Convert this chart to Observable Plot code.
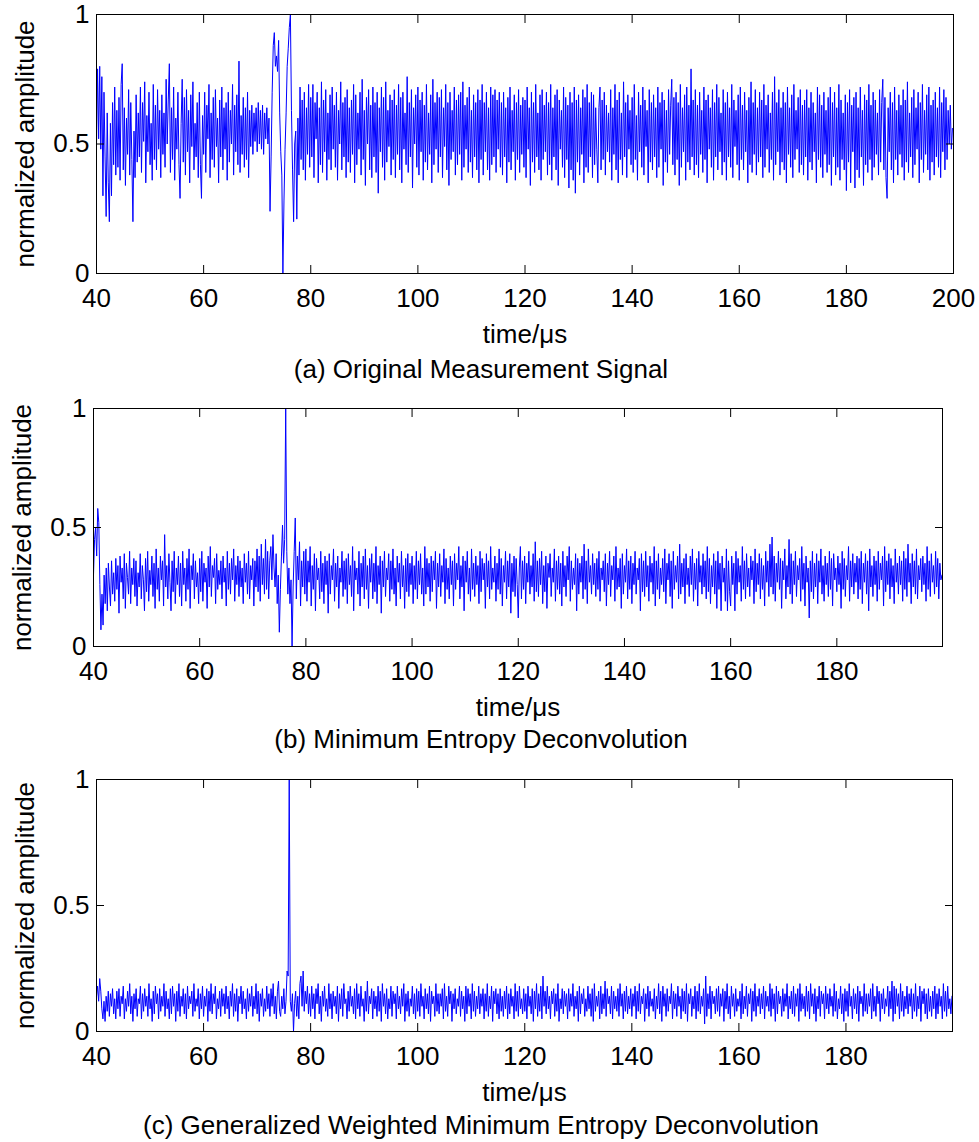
<!DOCTYPE html>
<html>
<head>
<meta charset="utf-8">
<script src="https://cdn.jsdelivr.net/npm/d3@7"></script>
<script src="https://cdn.jsdelivr.net/npm/@observablehq/plot@0.6"></script>
<style>
  body { margin: 0; background: #fff; }
  #fig { position: relative; width: 979px; height: 1142px; background: #fff; overflow: hidden;
         font-family: "Liberation Sans", Arial, Helvetica, sans-serif; }
  .panel { position: absolute; left: 0; }
  .cap { position: absolute; left: 0; width: 962px; text-align: center; font-size: 26px;
         line-height: 30px; color: #000; white-space: nowrap; }
</style>
</head>
<body>
<div id="fig"></div>
<script>
// ---- data (time starts at 40 µs, one sample every 0.2 µs; amplitudes in hundredths) ----
const startTime = 40;
const sampleStep = 0.2;

const xTicksA = [40, 60, 80, 100, 120, 140, 160, 180, 200];
const xTicksBC = [40, 60, 80, 100, 120, 140, 160, 180];
const yTicks = [0, 0.5, 1];

const yLabel = "normalized amplitude";
const xLabel = "time/\u03bcs";
const captions = [
  "(a) Original Measurement Signal",
  "(b) Minimum Entropy Deconvolution",
  "(c) Generalized Weighted Minimum Entropy Deconvolution"
];

const originalSignal = [
  50,79,52,80,48,76,30,70,45,22,62,35,20,58,30,66,42,72,38,63,
  41,68,36,73,81,40,64,34,60,46,71,38,66,44,20,55,37,69,43,62,
  45,72,39,66,51,74,35,61,47,70,42,58,36,73,44,65,40,71,48,63,
  37,69,46,62,41,75,50,67,81,39,64,44,72,36,60,48,70,42,29,58,
  75,43,68,38,71,47,63,35,69,49,74,40,58,45,66,37,70,42,29,61,
  46,70,39,65,52,73,37,62,44,68,41,71,49,60,35,67,45,72,40,64,
  48,66,36,70,43,63,50,73,38,65,47,69,42,82,39,61,46,68,41,64,
  44,70,37,63,49,65,46,62,51,64,47,66,50,63,48,65,46,62,52,64,
  50,60,24,45,70,88,93,80,84,78,90,62,47,38,0,28,48,62,80,87,
  95,100,63,40,20,50,55,21,60,38,72,44,67,40,70,36,64,46,73,41,
  68,45,73,37,66,52,70,35,64,42,74,39,67,47,71,36,62,44,69,40,
  72,48,65,41,70,36,63,50,74,40,66,45,68,37,71,43,64,39,67,46,
  73,35,69,42,62,48,70,38,75,44,63,34,68,50,71,40,65,37,72,45,
  66,39,70,31,64,47,72,41,68,36,74,43,63,49,69,38,67,44,71,37,
  65,46,73,40,68,35,70,48,62,42,76,39,66,45,71,33,64,50,69,41,
  72,38,67,47,70,36,65,43,73,40,62,46,69,35,75,42,66,48,70,39,
  68,45,71,37,64,49,73,40,66,34,70,44,63,47,72,38,67,42,69,46,
  70,36,74,41,65,48,68,39,72,43,63,37,69,45,66,40,71,35,67,44,
  73,38,66,47,70,40,64,36,72,42,69,45,71,39,67,48,70,41,66,38,
  70,45,64,35,68,43,72,40,63,47,69,36,66,44,71,39,65,46,68,41,
  67,37,72,48,64,34,70,43,66,39,73,45,62,40,69,36,71,44,65,47,
  70,38,66,42,73,36,64,45,69,40,71,34,67,48,63,41,72,37,68,44,
  65,33,70,40,66,36,72,31,67,43,69,38,64,46,71,35,68,41,73,39,
  66,45,70,37,69,42,64,48,35,64,72,40,67,44,70,38,65,47,62,43,
  71,36,64,46,73,40,67,35,70,44,62,38,74,45,66,37,69,48,63,42,
  68,39,73,44,61,36,70,47,65,41,72,38,67,49,63,35,71,43,66,40,
  69,45,64,37,72,41,66,48,70,34,67,43,63,39,71,46,65,75,42,68,
  38,70,44,66,34,73,41,64,47,69,36,72,43,65,40,79,45,67,38,71,
  42,65,37,70,46,63,39,72,44,67,35,69,48,64,41,71,36,66,45,73,
  40,68,47,62,38,71,43,66,36,70,45,64,41,73,37,67,49,63,42,69,
  36,72,44,65,40,70,47,63,35,68,42,74,39,66,46,71,38,64,43,70,
  45,67,37,73,41,65,48,69,39,62,44,70,36,76,42,66,47,71,38,64,
  43,70,40,66,35,72,46,64,41,69,37,73,44,63,48,68,39,71,42,65,
  38,67,45,71,36,64,43,70,40,66,47,62,35,72,44,69,41,65,37,70,
  46,63,39,68,42,72,34,66,45,70,38,64,41,73,36,67,44,62,40,69,
  32,66,43,71,35,65,47,68,33,70,40,64,37,72,45,63,34,69,42,67,
  39,73,44,65,36,70,41,67,46,62,38,71,43,66,75,40,68,37,29,64,
  47,70,40,66,35,72,44,63,38,69,46,65,41,71,36,67,43,74,39,62,
  45,68,37,71,42,64,48,70,35,66,44,73,39,63,46,69,40,72,36,65,
  43,67,38,70,45,64,41,72,37,66,47,71,40,68,44,63,50,65,48,56
];

const medSignal = [
  30,45,50,38,58,52,26,7,22,9,30,18,33,15,35,25,17,36,22,31,
  19,37,24,34,14,38,27,33,20,39,16,35,29,22,40,18,33,26,37,21,
  36,17,31,25,39,20,34,28,15,37,23,40,19,32,26,38,21,35,16,41,
  24,33,19,38,28,36,17,47,25,34,20,39,27,15,36,23,40,18,33,26,
  38,21,35,17,40,26,33,19,37,24,41,16,34,28,39,20,36,25,31,18,
  37,23,40,19,35,27,33,16,38,25,42,21,34,29,37,18,39,24,32,26,
  36,20,38,27,33,17,40,24,35,22,37,28,41,19,34,26,38,21,36,25,
  33,18,39,27,35,22,40,20,34,28,37,17,36,25,41,23,38,19,43,26,
  37,22,45,24,40,20,36,42,28,47,33,25,39,18,30,6,24,38,51,35,
  45,100,40,22,33,18,28,0,25,40,54,20,38,28,44,17,36,25,40,22,
  41,19,36,27,42,17,34,24,39,15,37,28,33,20,40,23,35,18,38,26,
  36,14,39,22,34,28,41,19,35,25,38,16,33,27,40,21,36,24,37,18,
  39,26,34,21,42,15,36,28,33,22,40,17,35,25,38,20,41,24,34,16,
  37,27,39,20,35,23,42,18,34,26,38,14,36,25,40,21,33,28,39,19,
  36,24,41,22,33,17,38,27,35,20,40,25,34,16,37,23,39,21,35,26,
  38,18,34,24,40,20,36,26,39,22,33,17,42,22,37,25,35,19,38,23,
  36,28,40,16,35,25,39,21,34,27,41,18,37,24,33,20,38,26,36,17,
  39,24,35,28,42,20,34,25,38,15,36,27,40,22,33,19,41,24,35,21,
  38,26,34,18,40,23,37,28,35,16,39,25,36,20,42,24,33,27,38,19,
  35,24,41,22,37,17,34,27,40,20,36,25,39,14,35,23,38,21,37,26,
  12,33,42,20,36,24,38,18,35,27,40,22,34,25,39,19,44,23,36,21,
  37,26,40,18,34,23,38,16,35,29,39,21,33,27,41,19,36,24,38,22,
  35,17,40,25,34,21,38,28,42,19,36,24,33,26,39,15,37,22,35,27,
  38,20,43,24,36,18,41,27,34,22,39,26,35,21,37,24,40,19,33,28,
  36,23,39,17,35,26,40,21,34,28,38,19,42,24,33,25,37,16,39,22,
  34,27,41,20,36,24,38,18,35,26,40,22,33,28,37,15,39,23,36,21,
  40,25,34,19,38,27,35,22,42,17,36,24,39,20,33,26,37,23,41,18,
  35,28,39,21,36,16,40,24,34,27,38,20,43,22,35,25,37,18,39,26,
  33,21,38,26,41,19,35,24,37,17,40,27,34,22,39,25,36,20,42,23,
  37,18,34,25,39,22,36,16,40,24,35,15,38,27,33,19,41,15,36,23,
  17,38,26,35,15,40,22,37,27,34,19,42,24,36,20,39,25,33,21,38,
  28,36,18,41,23,35,26,39,20,37,24,34,17,40,27,36,21,43,25,46,
  22,38,19,35,27,40,24,37,16,36,28,41,20,34,25,45,22,39,18,36,
  26,40,21,34,28,37,19,42,24,35,17,38,27,33,12,36,23,40,20,35,
  25,39,18,36,27,41,22,34,19,38,26,35,21,40,24,37,17,39,28,33,
  23,38,26,35,16,40,24,37,21,34,28,42,19,36,25,39,22,35,27,38,
  20,37,24,40,18,35,27,39,22,36,15,41,25,34,21,38,26,36,19,40,
  24,35,28,38,17,42,23,36,26,39,20,37,25,34,18,41,27,35,22,38,
  26,36,19,40,24,37,21,43,27,35,18,39,25,36,22,41,20,34,28,37,
  23,38,26,35,19,42,24,36,21,39,27,34,22,40,25,37,20,35,28,30
];

const gwmedSignal = [
  14,18,12,21,16,9,5,12,4,14,8,16,6,15,10,17,7,13,5,16,
  9,17,6,14,11,18,5,13,8,16,10,19,7,14,4,15,9,17,6,13,
  11,18,5,15,8,17,10,14,6,19,9,13,4,16,7,18,11,15,5,17,
  8,14,10,19,6,16,9,13,5,17,7,18,10,15,4,16,8,19,6,14,
  10,17,7,15,5,18,9,14,11,16,6,19,8,13,10,17,5,15,9,18,
  6,14,10,17,4,16,8,19,7,15,11,18,5,13,9,16,6,17,10,15,
  7,18,9,14,5,16,10,19,6,15,8,17,4,14,11,18,7,16,9,13,
  5,17,8,15,10,18,6,14,9,19,7,16,4,15,10,17,6,13,8,18,
  9,15,6,17,10,19,7,14,5,16,20,8,6,14,9,17,7,12,24,22,
  100,12,8,15,0,11,16,6,14,5,19,22,10,24,8,16,11,18,7,15,
  6,18,9,15,5,17,11,19,7,14,4,16,10,18,8,13,6,19,9,15,
  5,16,10,14,7,18,4,15,9,17,6,19,11,13,5,16,8,18,10,14,
  7,17,5,19,9,15,6,18,10,13,4,16,8,20,7,14,11,17,5,16,
  9,14,6,18,8,16,4,19,10,15,7,17,5,13,9,18,6,16,11,15,
  5,18,9,14,7,17,10,19,4,15,8,16,6,13,10,18,7,15,5,17,
  8,16,6,19,10,14,5,17,9,15,7,18,4,16,11,14,6,19,8,15,
  7,15,10,17,5,19,8,14,6,18,11,16,4,15,9,17,7,13,10,18,
  6,16,9,14,4,18,7,17,10,15,5,19,8,16,6,14,9,18,7,15,
  10,17,5,15,8,19,6,14,9,18,4,16,11,17,7,15,5,17,8,14,
  6,16,9,18,5,15,7,17,10,14,5,19,8,16,6,18,9,13,7,17,
  8,15,5,18,10,14,7,17,4,16,9,19,6,15,8,18,5,22,10,16,
  7,18,9,14,5,16,11,17,6,15,8,19,4,13,9,17,7,16,10,15,
  5,17,8,15,10,19,6,14,9,16,4,18,7,15,11,17,6,13,8,18,
  9,15,6,17,4,19,8,14,10,16,5,18,7,15,9,20,6,17,11,14,
  7,18,5,16,9,14,8,17,6,19,10,15,5,16,8,18,7,14,9,17,
  6,15,10,18,5,16,8,19,7,14,11,17,4,15,9,18,6,16,10,13,
  8,17,5,14,9,19,7,16,4,18,10,15,6,17,8,14,11,19,5,16,
  9,15,6,18,10,14,5,17,8,16,7,19,4,15,11,17,6,14,9,18,
  5,16,8,19,7,14,10,17,3,22,6,15,9,18,5,16,11,14,7,17,
  8,18,6,15,10,17,4,16,9,19,7,14,5,18,10,15,6,17,8,13,
  10,16,5,19,7,14,9,18,6,15,11,17,4,16,8,19,6,14,10,17,
  7,15,9,18,5,16,10,14,8,19,6,17,9,15,4,18,7,16,11,14,
  6,17,8,15,10,19,5,14,9,16,7,18,6,15,10,17,4,19,8,15,
  9,14,6,18,8,16,5,19,10,15,7,17,4,14,9,18,6,16,11,15,
  5,18,9,15,7,17,10,14,6,19,8,16,5,13,9,18,7,15,4,17,
  8,16,6,19,10,14,5,17,9,15,7,18,4,16,11,14,6,19,8,15,
  7,15,10,17,5,19,8,14,6,18,11,16,4,15,9,17,7,13,10,18,
  6,16,9,20,4,18,7,17,10,15,5,19,8,16,6,14,9,18,7,15,
  10,17,5,15,8,19,6,14,9,18,4,16,11,17,7,15,5,17,8,14,
  6,16,9,18,5,15,7,17,10,14,5,19,8,16,6,18,9,13,7,14
];

// ---- drawing ----
const FONT = '"Liberation Sans", Arial, Helvetica, sans-serif';
const FS = 26;
const fig = document.getElementById("fig");

function panel(values, cfg) {
  const data = values.map((v, i) => ({ t: startTime + i * sampleStep, amp: v / 100 }));
  const tickLen = 8;
  const svg = Plot.plot({
    width: 979,
    height: cfg.height,
    marginTop: cfg.mt,
    marginLeft: cfg.ml,
    marginRight: cfg.mr,
    marginBottom: cfg.mb,
    style: { fontSize: FS + "px", fontFamily: FONT, background: "transparent", overflow: "visible", color: "#000" },
    x: { domain: cfg.xDomain, label: null },
    y: { domain: [0, 1], label: null },
    marks: [
      Plot.line(data, { x: "t", y: "amp", stroke: "#0000ff", strokeWidth: 1 }),
      Plot.frame({ stroke: "#000", strokeWidth: 1 }),
      // inward ticks on all four sides
      Plot.axisX(cfg.xTicks, { anchor: "bottom", tickSize: tickLen, dy: -tickLen, tickFormat: () => "", label: null }),
      Plot.axisX(cfg.xTicks, { anchor: "top", tickSize: tickLen, dy: tickLen, tickFormat: () => "", label: null }),
      Plot.axisY(yTicks, { anchor: "left", tickSize: tickLen, dx: tickLen, tickFormat: () => "", label: null }),
      Plot.axisY(yTicks, { anchor: "right", tickSize: tickLen, dx: -tickLen, tickFormat: () => "", label: null }),
      // tick labels
      Plot.axisX(cfg.xTicks, { anchor: "bottom", tickSize: 0, tickPadding: 15, tickFormat: d => String(d), label: null }),
      Plot.axisY(yTicks, { anchor: "left", tickSize: 0, tickPadding: 7, tickFormat: d => String(d), label: null }),
      // axis titles
      Plot.text([yLabel], { frameAnchor: "left", rotate: -90, dx: -71, textAnchor: "middle", lineAnchor: "middle", fontSize: FS }),
      Plot.text([xLabel], { frameAnchor: "bottom", dy: 61, textAnchor: "middle", lineAnchor: "middle", fontSize: FS })
    ]
  });
  const wrap = document.createElement("div");
  wrap.className = "panel";
  wrap.style.top = cfg.top + "px";
  wrap.appendChild(svg);
  fig.appendChild(wrap);

  const cap = document.createElement("div");
  cap.className = "cap";
  cap.style.top = (cfg.capY - 15) + "px";
  cap.textContent = cfg.caption;
  fig.appendChild(cap);
}

panel(originalSignal, { top: 0, height: 350, mt: 14, ml: 96, mr: 26, mb: 77,
  xDomain: [40, 200], xTicks: xTicksA, caption: captions[0], capY: 369 });
panel(medSignal, { top: 394, height: 329, mt: 14, ml: 93, mr: 37, mb: 77,
  xDomain: [40, 199.9], xTicks: xTicksBC, caption: captions[1], capY: 739 });
panel(gwmedSignal, { top: 765, height: 343, mt: 14, ml: 96, mr: 27, mb: 77,
  xDomain: [40, 199.9], xTicks: xTicksBC, caption: captions[2], capY: 1125 });
</script>
</body>
</html>
